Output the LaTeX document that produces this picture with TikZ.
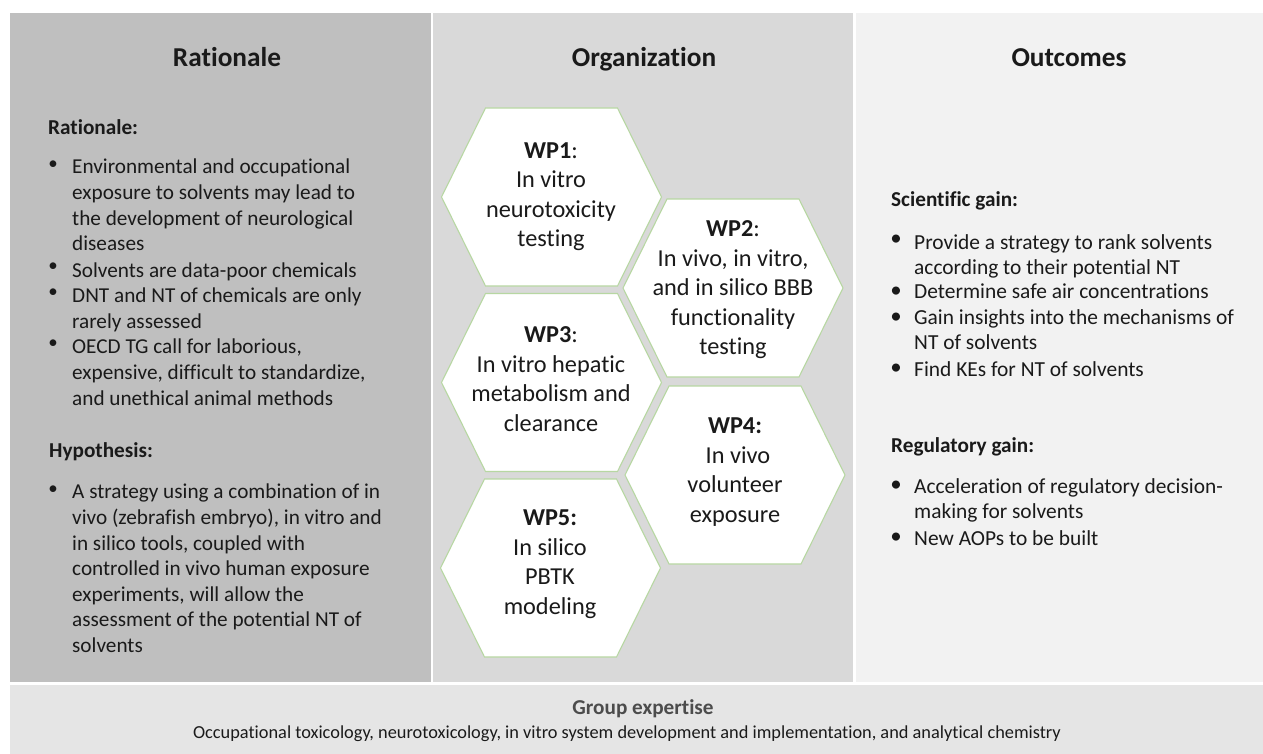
\documentclass[tikz,border=0pt]{standalone}
\usepackage{fontspec}
\setmainfont[Ligatures=NoCommon]{Carlito}
\definecolor{panelA}{HTML}{BFBFBF}
\definecolor{panelB}{HTML}{D9D9D9}
\definecolor{panelC}{HTML}{F2F2F2}
\definecolor{panelD}{HTML}{E5E5E5}
\definecolor{hexline}{HTML}{B7D7A2}
\definecolor{inktext}{HTML}{1A1A1A}
\tikzset{
  paneltitle/.style={font=\fontsize{27.4}{32}\selectfont\bfseries, text=inktext, inner sep=0pt, anchor=base},
  subhead/.style={font=\fontsize{21.3}{25}\selectfont\bfseries, text=inktext, anchor=base west, inner sep=0pt},
  bodytext/.style={font=\fontsize{21.3}{25.7}\selectfont, text=inktext, align=left, anchor=north west, inner sep=0pt},
  rightbody/.style={bodytext, font=\fontsize{21.5}{25.7}\selectfont},
  hextext/.style={font=\fontsize{24.4}{29.6}\selectfont, text=inktext, align=center, inner sep=0pt},
  dotmark/.style={font=\fontsize{19}{20}\selectfont, text=inktext, inner sep=0pt},
  dotmarkR/.style={font=\fontsize{23}{24}\selectfont, text=inktext, inner sep=0pt}
}
\begin{document}
\begin{tikzpicture}[x=1bp,y=-1bp]
   \useasboundingbox (0,0) rectangle (1263,754);
   \fill[white] (0,0) rectangle (1263,754);
   \fill[panelA] (10,13) rectangle (431,682);
   \fill[panelB] (433,13) rectangle (853,682);
   \fill[panelC] (856,13) rectangle (1263,682);
   \fill[panelD] (10,685) rectangle (1263,754);

   \node[paneltitle] (titleA) at (227,67) {Rationale};
   \node[paneltitle] (titleB) at (644,67) {Organization};
   \node[paneltitle] (titleC) at (1069,67) {Outcomes};

   % left column
   \node[subhead] (rat) at (48,134) {Rationale:};
   \node[bodytext] (r1) at (72,159) {Environmental and occupational\\exposure to solvents may lead to\\the development of neurological\\diseases};
   \node[bodytext] (r2) at (72,263) {Solvents are data-poor chemicals};
   \node[bodytext] (r3) at (72,288) {DNT and NT of chemicals are only\\rarely assessed};
   \node[bodytext] (r4) at (72,339) {OECD TG call for laborious,\\expensive, difficult to standardize,\\and unethical animal methods};
   \node[subhead] (hyp) at (49,457) {Hypothesis:};
   \node[bodytext] (h1) at (72,484) {A strategy using a combination of in\\vivo (zebrafish embryo), in vitro and\\in silico tools, coupled with\\controlled in vivo human exposure\\experiments, will allow the\\assessment of the potential NT of\\solvents};
   \foreach \n/\y in {a/165,b/267,c/293,d/344,e/490}
   \node[dotmark] (dot\n) at (53,\y) {\textbullet};

   % right column
   \node[subhead] (sci) at (891,206) {Scientific gain:};
   \node[rightbody] (s1) at (914,234) {Provide a strategy to rank solvents\\according to their potential NT};
   \node[rightbody] (s2) at (914,284) {Determine safe air concentrations};
   \node[rightbody] (s3) at (914,309) {Gain insights into the mechanisms of\\NT of solvents};
   \node[rightbody] (s4) at (914,361) {Find KEs for NT of solvents};
   \node[subhead] (reg) at (891,452) {Regulatory gain:};
   \node[rightbody] (g1) at (914,478) {Acceleration of regulatory decision-\\making for solvents};
   \node[rightbody] (g2) at (914,530) {New AOPs to be built};
   \foreach \n/\y in {f/240,g/292,h/318,i/369,j/486,k/538}
   \node[dotmarkR] (dot\n) at (896,\y) {\textbullet};

   % hexagons
   \foreach \n/\cx/\cy in {1/551.5/197,2/733/288,3/551.5/382.5,4/735/475,5/550.5/568}
   \draw[hexline, fill=white, line width=1.1pt] (\cx-110,\cy) -- (\cx-66,\cy-89) -- (\cx+66,\cy-89)
     -- (\cx+110,\cy) -- (\cx+66,\cy+89) -- (\cx-66,\cy+89) -- cycle;

   \node[hextext] (wp1) at (551,196.5) {\textbf{WP1}:\\In vitro\\neurotoxicity\\testing};
   \node[hextext] (wp2) at (733,290) {\textbf{WP2}:\\In vivo, in vitro,\\and in silico BBB\\functionality\\testing};
   \node[hextext] (wp3) at (551,379) {\textbf{WP3}:\\In vitro hepatic\\metabolism and\\clearance};
   \node[hextext] (wp4) at (735,472) {\textbf{WP4:}\\\hspace{6bp}In vivo\\volunteer\\exposure};
   \node[hextext] (wp5) at (550,564) {\textbf{WP5:}\\In silico\\PBTK\\modeling};

   % bottom band
   \node[font=\fontsize{21.3}{25}\selectfont\bfseries, text=black!70, inner sep=0pt, anchor=base] (grp) at (643,714) {Group expertise};
   \node[font=\fontsize{18.4}{22}\selectfont, text=inktext, inner sep=0pt, anchor=base] (exp) at (627,738) {Occupational toxicology, neurotoxicology, in vitro system development and implementation, and analytical chemistry};
\end{tikzpicture}
\end{document}
